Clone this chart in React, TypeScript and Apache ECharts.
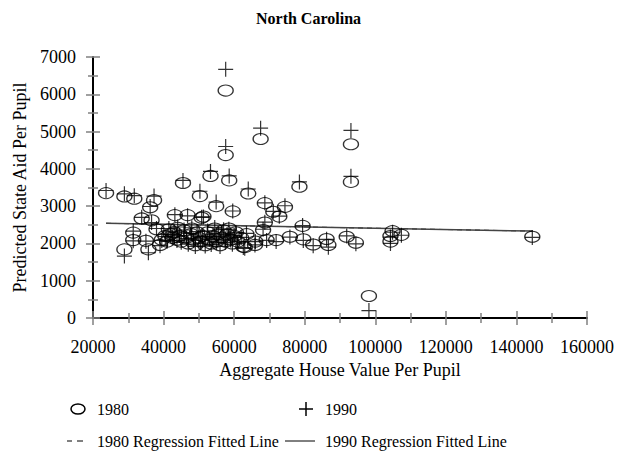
import React, { useEffect, useRef } from "react";
import * as echarts from "echarts";

const houseValue = [
  23700, 28900, 31700, 37300, 36200, 33800, 36600, 45500, 50300, 53300,
  58600, 54900, 59600, 64000, 57600, 57600, 67500, 68700, 71100, 72800,
  74400, 78500, 93100, 93100, 43200, 46800, 50800, 51300, 68700, 79400,
  38000, 31400, 31400, 28900, 35700, 35000, 91900, 75800, 79600, 82400,
  86200, 86700, 71900, 69200, 65900, 62600, 68200, 94500, 104900, 107400,
  104300, 104300, 144500, 98200, 39500, 40500, 41000, 42000, 42500, 43000,
  43800, 44500, 45000, 45800, 46500, 47000, 47800, 48500, 49000, 49500,
  50000, 50500, 51000, 51800, 52500, 53000, 53500, 54000, 54500, 55000,
  55500, 56000, 56500, 57000, 57500, 58000, 58500, 59000, 59500, 60000,
  60500, 61000, 62000, 63000, 63500, 66000, 48000, 44000, 41500, 39000,
];

const aid1980 = [
  3350, 3260, 3200, 3160, 2970, 2670, 2620, 3620, 3270, 3810,
  3690, 3000, 2860, 3340, 6100, 4370, 4800, 3080, 2850, 2720,
  2980, 3520, 4660, 3650, 2760, 2760, 2690, 2720, 2560, 2470,
  2380, 2290, 2090, 1840, 1840, 2070, 2180, 2180, 2110, 1970,
  2120, 1960, 2090, 2090, 1960, 1910, 2360, 2020, 2330, 2230,
  2200, 2050, 2180, 590, 2100, 2200, 2050, 2250, 2150, 2300,
  2100, 2200, 2050, 2350, 2150, 2000, 2250, 2100, 1950, 2300,
  2150, 2050, 2200, 1950, 2300, 2100, 2000, 2200, 2400, 2050,
  2250, 1950, 2150, 2350, 2050, 2250, 2400, 2100, 2000, 2200,
  2300, 2050, 2150, 1900, 2250, 2050, 2400, 2420, 2380, 1960,
];

const aid1990 = [
  3420, 3330, 3280, 3270, 2990, 2700, 2560, 3690, 3400, 3930,
  3810, 3110, 2870, 3460, 6670, 4600, 5090, 3090, 2860, 2730,
  3010, 3650, 5030, 3800, 2770, 2740, 2700, 2710, 2570, 2480,
  2400, 2330, 2070, 1660, 1750, 2060, 2200, 2170, 2080, 1940,
  2110, 1900, 2050, 2080, 1960, 1890, 2380, 1990, 2300, 2220,
  2170, 2000, 2160, 200, 2080, 2180, 2060, 2240, 2170, 2310,
  2080, 2210, 2030, 2360, 2130, 1980, 2270, 2090, 1920, 2320,
  2140, 2010, 2190, 1930, 2330, 2110, 1970, 2190, 2430, 2020,
  2260, 1920, 2150, 2370, 2030, 2240, 2380, 2090, 1980, 2210,
  2290, 2040, 2160, 1870, 2270, 2050, 2420, 2440, 2400, 1940,
];

const fitX = [23700, 144500];
const fit1980 = [2540, 2330];
const fit1990 = [2540, 2330];

const xTicks = { min: 20000, max: 160000, interval: 20000 };
const yTicks = { min: 0, max: 7000, interval: 1000 };

const FONT = "'Liberation Serif', 'Times New Roman', serif";

export default function App() {
  const ref = useRef<HTMLDivElement>(null);

  useEffect(() => {
    document.body.style.margin = "0";
    if (!ref.current) return;
    const chart = echarts.init(ref.current, undefined, { renderer: "svg" });

    const tickColor = "#808080";
    const fmt = (v: number) => String(v);
    const mkX = (inside: boolean) => ({
      type: "value",
      min: xTicks.min,
      max: xTicks.max,
      interval: xTicks.interval,
      position: "bottom",
      axisLine: inside
        ? { show: false }
        : { show: true, onZero: false, lineStyle: { color: "#000", width: 2 } },
      axisTick: { show: true, inside, length: 7, lineStyle: { color: tickColor, width: 1.5 } },
      minorTick: { show: true, splitNumber: 2, length: 5, lineStyle: { color: tickColor, width: 1.5 } },
      axisLabel: inside
        ? { show: false }
        : { show: true, margin: 20, color: "#000", fontFamily: FONT, fontSize: 18, formatter: fmt },
      splitLine: { show: false },
      name: inside ? "" : "Aggregate House Value Per Pupil",
      nameLocation: "middle",
      nameGap: 40,
      nameTextStyle: { color: "#000", fontFamily: FONT, fontSize: 18 },
    });
    const mkY = (inside: boolean) => ({
      type: "value",
      min: yTicks.min,
      max: yTicks.max,
      interval: yTicks.interval,
      position: "left",
      axisLine: inside
        ? { show: false }
        : { show: true, onZero: false, lineStyle: { color: "#000", width: 2 } },
      axisTick: { show: true, inside, length: 7, lineStyle: { color: tickColor, width: 1.5 } },
      minorTick: { show: true, splitNumber: 2, length: 5, lineStyle: { color: tickColor, width: 1.5 } },
      axisLabel: inside
        ? { show: false }
        : { show: true, margin: 17, color: "#000", fontFamily: FONT, fontSize: 18, formatter: fmt },
      splitLine: { show: false },
      name: inside ? "" : "Predicted State Aid Per Pupil",
      nameLocation: "middle",
      nameGap: 60,
      nameTextStyle: { color: "#000", fontFamily: FONT, fontSize: 18 },
    });

    const pts1980 = houseValue.map((x, i) => [x, aid1980[i]]);
    const pts1990 = houseValue.map((x, i) => [x, aid1990[i]]);

    chart.setOption({
      animation: false,
      backgroundColor: "#fff",
      title: {
        text: "North Carolina",
        left: "center",
        top: 5,
        textStyle: { fontFamily: FONT, fontSize: 16, fontWeight: "bold", color: "#000" },
      },
      grid: { left: 93, right: 30, top: 57, bottom: 143, containLabel: false },
      xAxis: [mkX(false), mkX(true)],
      yAxis: [mkY(false), mkY(true)],
      series: [
        {
          name: "1980",
          type: "scatter",
          data: pts1980,
          symbol: "circle",
          symbolSize: [15, 11],
          itemStyle: { color: "rgba(0,0,0,0)", borderColor: "#000", borderWidth: 1.2 },
          z: 3,
        },
        {
          name: "1990",
          type: "scatter",
          data: pts1990,
          symbol: "path://M0,7L14,7M7,0L7,14",
          symbolSize: 15,
          itemStyle: { color: "rgba(0,0,0,0)", borderColor: "#000", borderWidth: 1.2 },
          z: 3,
        },
        {
          name: "1980 Regression Fitted Line",
          type: "line",
          data: fitX.map((x, i) => [x, fit1980[i]]),
          symbol: "none",
          lineStyle: { color: "#000", width: 1, type: [5, 4] },
          z: 2,
        },
        {
          name: "1990 Regression Fitted Line",
          type: "line",
          data: fitX.map((x, i) => [x, fit1990[i]]),
          symbol: "none",
          lineStyle: { color: "#444", width: 1.5 },
          z: 2,
        },
      ],
      graphic: [
        { type: "ellipse", shape: { cx: 78, cy: 409, rx: 7, ry: 5 }, style: { fill: "none", stroke: "#000", lineWidth: 1.5 } },
        { type: "text", x: 97, y: 409, style: { text: "1980", fontFamily: FONT, fontSize: 16, fill: "#000", verticalAlign: "middle" } },
        { type: "line", shape: { x1: 299, y1: 409, x2: 313, y2: 409 }, style: { stroke: "#000", lineWidth: 1.5 } },
        { type: "line", shape: { x1: 306, y1: 402, x2: 306, y2: 416 }, style: { stroke: "#000", lineWidth: 1.5 } },
        { type: "text", x: 325, y: 409, style: { text: "1990", fontFamily: FONT, fontSize: 16, fill: "#000", verticalAlign: "middle" } },
        { type: "line", shape: { x1: 67, y1: 441, x2: 72, y2: 441 }, style: { stroke: "#000", lineWidth: 1 } },
        { type: "line", shape: { x1: 77, y1: 441, x2: 83, y2: 441 }, style: { stroke: "#000", lineWidth: 1 } },
        { type: "text", x: 97, y: 441, style: { text: "1980 Regression Fitted Line", fontFamily: FONT, fontSize: 16, fill: "#000", verticalAlign: "middle" } },
        { type: "line", shape: { x1: 285, y1: 441, x2: 315, y2: 441 }, style: { stroke: "#000", lineWidth: 1 } },
        { type: "text", x: 325, y: 441, style: { text: "1990 Regression Fitted Line", fontFamily: FONT, fontSize: 16, fill: "#000", verticalAlign: "middle" } },
      ],
    });

    return () => chart.dispose();
  }, []);

  return <div ref={ref} style={{ width: 617, height: 461 }} />;
}
